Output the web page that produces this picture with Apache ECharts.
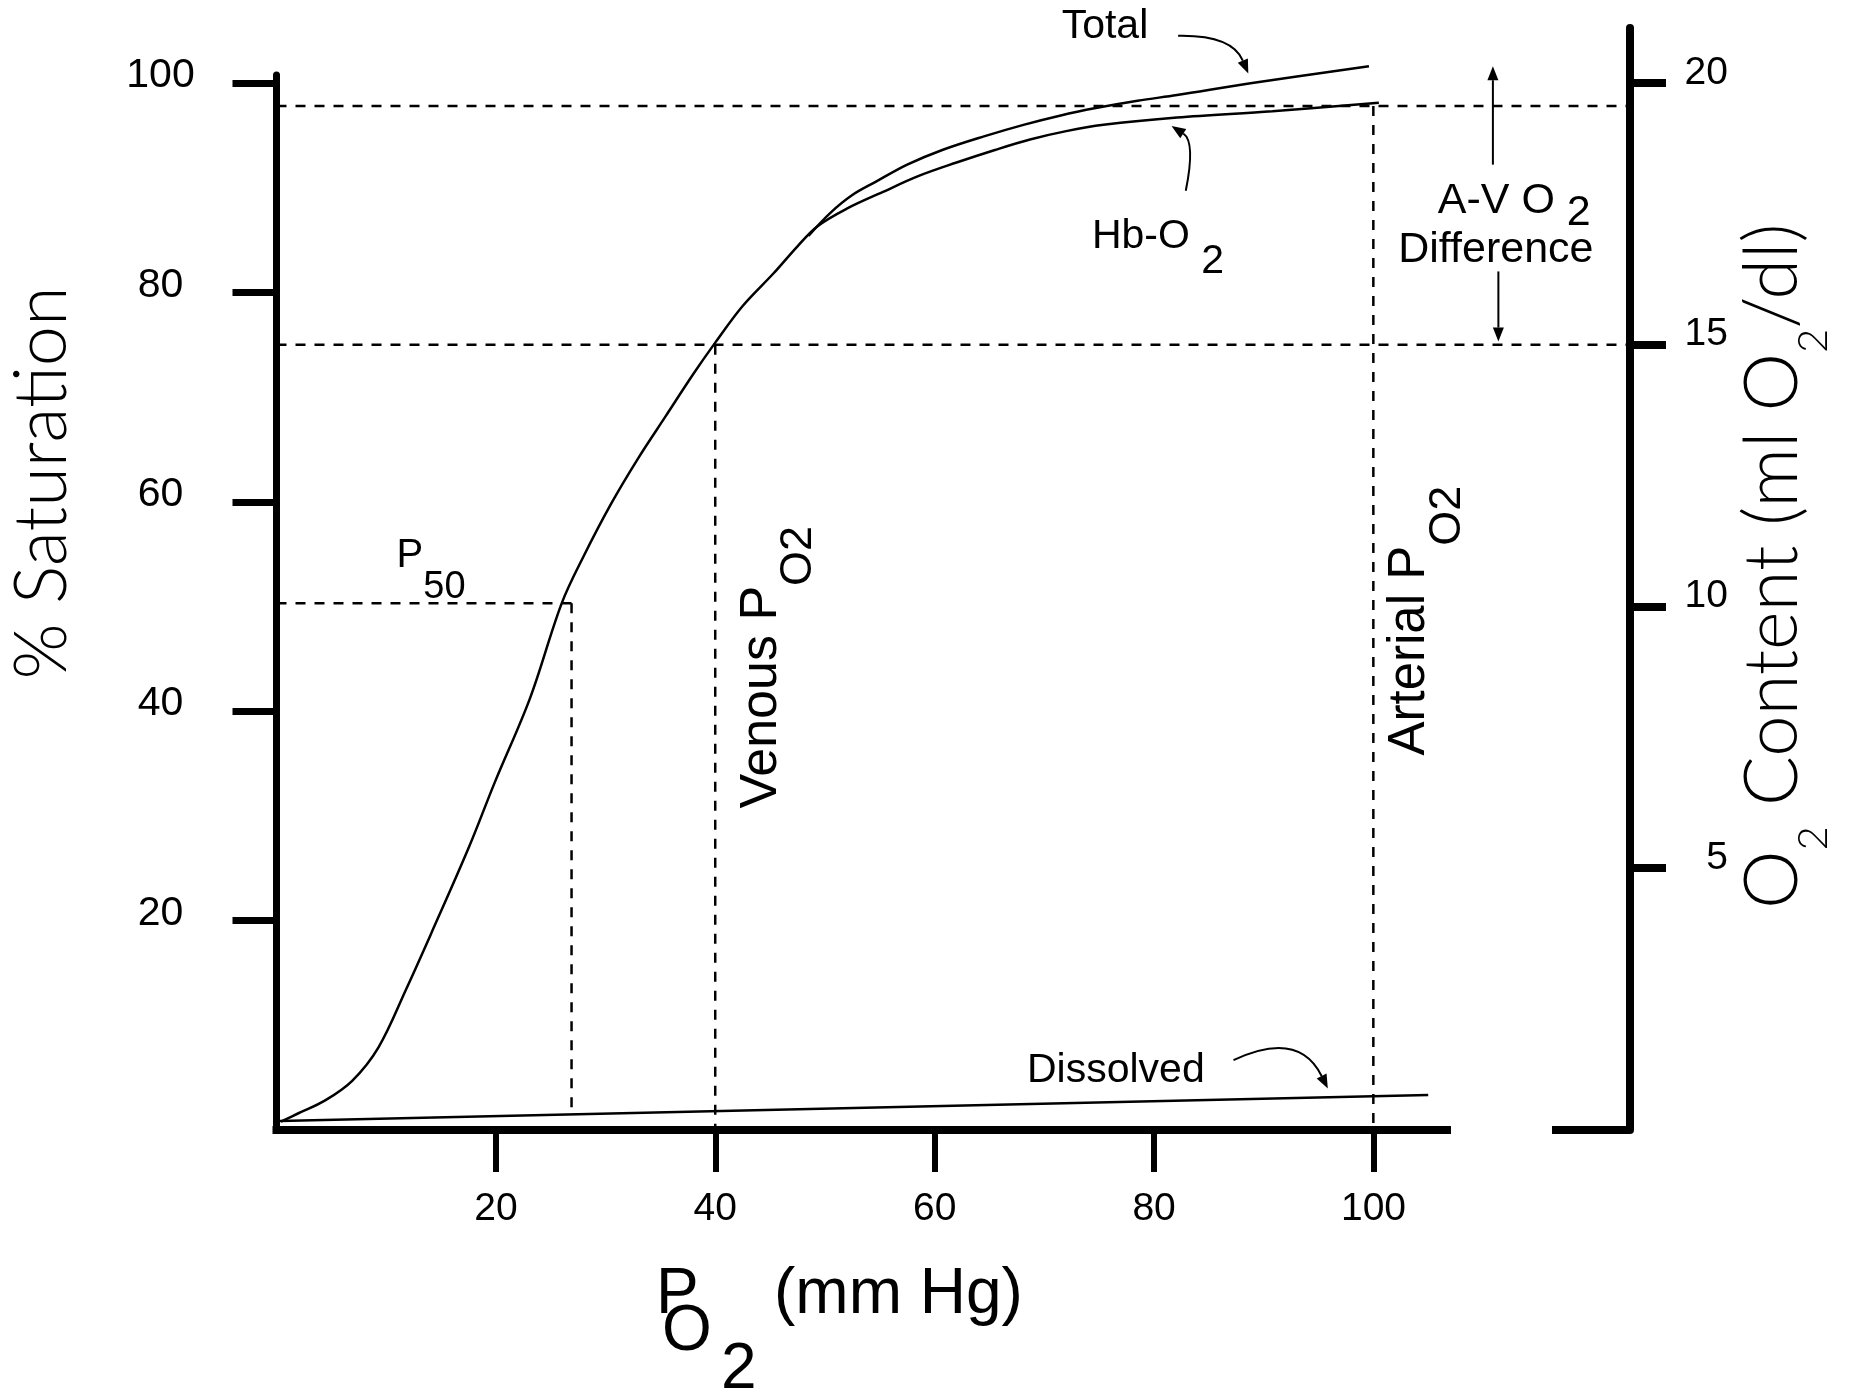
<!DOCTYPE html>
<html><head><meta charset="utf-8">
<script src="https://cdn.jsdelivr.net/npm/echarts@6/dist/echarts.min.js"></script>
<style>html,body{margin:0;padding:0;background:#fff}#c{width:1851px;height:1394px}</style>
</head><body><div id="c"></div><script>
// ---- data ----
const hbPo2 = [0.4, 2.0, 4.4, 6.9, 9.3, 11.8, 14.2, 17.5, 19.9, 23.1, 26.0, 28.0, 30.5, 33.0, 35.5, 38.0, 40.0, 42.5, 45.3, 47.5, 49.3, 52.0, 55.3, 58.5, 62.0, 65.5, 68.7, 72.0, 75.4, 82.1, 90.8, 100.5];
const hbSat = [0.8, 1.6, 2.8, 4.7, 7.9, 13.4, 19.0, 26.9, 33.2, 41.2, 50.3, 54.8, 59.8, 64.2, 68.2, 72.2, 75.2, 78.7, 81.8, 84.4, 86.3, 88.0, 89.6, 91.1, 92.4, 93.6, 94.6, 95.4, 96.0, 96.7, 97.3, 98.1];
const totalPo2 = [48.5, 50.5, 52.5, 54.7, 57.5, 60.7, 64.5, 68.1, 71.5, 74.7, 78.5, 82.1, 88.8, 99.6];
const totalSat = [85.4, 87.6, 89.3, 90.6, 92.2, 93.6, 94.9, 96.0, 96.9, 97.6, 98.3, 98.85, 99.97, 101.6];
const dissolvedPo2 = [0.3, 105.0];
const dissolvedSat = [0.85, 3.35];
// reference points
const p50Po2 = 26.9, p50Sat = 50.3, p50Floor = 1.55;
const venousPo2 = 40, venousSat = 75;
const arterialPo2 = 100, arterialSat = 97.8;
// ticks
const xTicks = [20, 40, 60, 80, 100];
const satTicks = [20, 40, 60, 80, 100];
const contentTicks = [5, 10, 15, 20];

// ---- axis extents ----
const X_MAX = 123.4, Y_MAX = 105.25;     // plot frame (right axis)
const XAXIS_END = 106.7, SAT_AXIS_END = 100.76;

const FONT = '"Liberation Sans", Arial, sans-serif';
const LIGHT = 'Lato, "Open Sans", sans-serif';

const zip = (a, b) => a.map((v, i) => [v, b[i]]);
function sub(mainSize, subSize, shift, family, weight) {
  return {
    m: {fontSize: mainSize, fontFamily: family, fontWeight: weight, fill: '#000'},
    s: {fontSize: subSize, fontFamily: family, fontWeight: weight, fill: '#000', padding: [2 * shift, 0, 0, 0]}
  };
}

// annotations in data coordinates (anchor = cap-centre of main text)
const labels = [
  {at: [75.53, 105.35], text: 'Total', align: 'center'},
  {at: [74.34, 85.29], text: '{m|Hb-O }{s|2}', align: 'left', rich: sub(41, 41, 25, FONT, 400)},
  {at: [105.88, 88.75], text: '{m|A-V O }{s|2}', align: 'left', rich: sub(43, 43, 12, FONT, 400)},
  {at: [111.17, 84.05], text: 'Difference', align: 'center', size: 43},
  {at: [10.95, 54.83], text: '{m|P}{s|50}', align: 'left', rich: sub(40, 38, 32, FONT, 400)},
  {at: [68.42, 5.65], text: 'Dissolved', align: 'left'},
  {at: [44.2, 30.7], rot: true, text: '{m|Venous P}{s|O2}', align: 'left', rich: sub(52, 45, 37, FONT, 400)},
  {at: [103.37, 35.77], rot: true, text: '{m|Arterial P}{s|O2}', align: 'left', rich: sub(51, 45, 37, FONT, 400)}
];
const arrows = [
  {from: [82.2, 104.5], ctrl: [87.1, 104.6], to: [88.6, 100.9]},
  {from: [82.9, 89.7], ctrl: [83.8, 94.4], to: [81.6, 95.9]},
  {from: [110.9, 92.2], ctrl: [110.9, 97], to: [110.9, 101.6]},
  {from: [111.4, 82.0], ctrl: [111.4, 78.5], to: [111.4, 75.3]},
  {from: [87.25, 6.68], ctrl: [93.2, 9.6], to: [95.85, 3.96]}
];

const dashed = {color: '#000', width: 2.5, type: [10, 9]};
function guide(name, pts) {
  return {name, type: 'line', xAxisIndex: 0, yAxisIndex: 0, data: pts, symbol: 'none',
          lineStyle: dashed, silent: true, z: 1, animation: false};
}
function curve(name, pts, w) {
  return {name, type: 'line', xAxisIndex: 0, yAxisIndex: 0, data: pts, symbol: 'none', showSymbol: false,
          smooth: 0.35, lineStyle: {color: '#000', width: w}, z: 3, animation: false};
}

const chart = echarts.init(document.getElementById('c'), null, {renderer: 'canvas'});
chart.setOption({
  backgroundColor: '#fff',
  animation: false,
  grid: [
    {left: 276.5, top: 28, width: 1353.5, height: 1102},
    {left: 276.5, top: 75, width: 1170.5, height: 1055}
  ],
  xAxis: [
    {gridIndex: 0, type: 'value', min: 0, max: X_MAX, show: false},
    {gridIndex: 1, type: 'value', min: 0, max: XAXIS_END, position: 'bottom',
     axisLine: {show: true, lineStyle: {color: '#000', width: 8, cap: 'square'}},
     axisTick: {show: true, customValues: xTicks, length: 42, lineStyle: {color: '#000', width: 6}},
     axisLabel: {show: true, customValues: xTicks, margin: 60, fontSize: 39, fontFamily: FONT, color: '#000'},
     splitLine: {show: false}}
  ],
  yAxis: [
    {gridIndex: 0, type: 'value', min: 0, max: Y_MAX, show: false},
    {gridIndex: 1, type: 'value', min: 0, max: SAT_AXIS_END, position: 'left',
     axisLine: {show: true, lineStyle: {color: '#000', width: 7}},
     axisTick: {show: true, customValues: satTicks, length: 44, lineStyle: {color: '#000', width: 7}},
     axisLabel: {show: true, customValues: satTicks, margin: 116, align: 'center', verticalAlign: 'bottom', lineHeight: 14,
                 fontSize: 41, fontFamily: FONT, color: '#000'},
     splitLine: {show: false}},
    {gridIndex: 0, type: 'value', min: 0, max: Y_MAX / 5, position: 'right',
     axisLine: {show: true, lineStyle: {color: '#000', width: 8}},
     axisTick: {show: true, customValues: contentTicks, length: 36, lineStyle: {color: '#000', width: 8}},
     axisLabel: {show: true, customValues: contentTicks, margin: 98, align: 'right', verticalAlign: 'bottom', lineHeight: 20,
                 fontSize: 39, fontFamily: FONT, color: '#000'},
     splitLine: {show: false}},
    {gridIndex: 0, type: 'value', min: 0, max: Y_MAX / 5, position: 'right',
     axisLine: {show: false},
     axisTick: {show: true, inside: true, customValues: [0], length: 78, lineStyle: {color: '#000', width: 8}},
     axisLabel: {show: false}, splitLine: {show: false}}
  ],
  series: [
    guide('arterialH', [[0, arterialSat], [X_MAX, arterialSat]]),
    guide('venousH', [[0, venousSat], [X_MAX, venousSat]]),
    guide('venousV', [[venousPo2, venousSat], [venousPo2, 0]]),
    guide('arterialV', [[arterialPo2, arterialSat], [arterialPo2, 0]]),
    guide('p50H', [[0, p50Sat], [p50Po2, p50Sat]]),
    guide('p50V', [[p50Po2, p50Sat], [p50Po2, p50Floor]]),
    curve('Hb-O2', zip(hbPo2, hbSat), 2.5),
    curve('Total', zip(totalPo2, totalSat), 2.5),
    curve('Dissolved', zip(dissolvedPo2, dissolvedSat), 2.5),
    {type: 'custom', name: 'labels', xAxisIndex: 0, yAxisIndex: 0, clip: false, silent: true, z: 5,
     data: labels.map(l => l.at),
     renderItem: function (params, api) {
       const l = labels[params.dataIndex];
       const p = api.coord([api.value(0), api.value(1)]);
       return {type: 'text', x: p[0], y: p[1], rotation: l.rot ? Math.PI / 2 : 0,
               style: {text: l.text, fontSize: l.size || 41, fontFamily: FONT, fill: '#000',
                       align: l.align, verticalAlign: 'middle', rich: l.rich || {}}};
     }},
    {type: 'custom', name: 'arrows', xAxisIndex: 0, yAxisIndex: 0, clip: false, silent: true, z: 5,
     data: arrows.map(a => a.to),
     renderItem: function (params, api) {
       const a = arrows[params.dataIndex];
       const f = api.coord(a.from), c = api.coord(a.ctrl), t = api.coord(a.to);
       const dx = t[0] - c[0], dy = t[1] - c[1], d = Math.hypot(dx, dy) || 1;
       const ux = dx / d, uy = dy / d, len = 14, hw = 5.5;
       const bx = t[0] - ux * len, by = t[1] - uy * len;
       return {type: 'group', children: [
         {type: 'bezierCurve', shape: {x1: f[0], y1: f[1], cpx1: c[0], cpy1: c[1], x2: bx, y2: by},
          style: {stroke: '#000', lineWidth: 2, fill: null}},
         {type: 'polygon', shape: {points: [t, [bx - uy * hw, by + ux * hw], [bx + uy * hw, by - ux * hw]]},
          style: {fill: '#000'}}
       ]};
     }}
  ],
  graphic: [
    {type: 'text', x: 42.5, y: 483, rotation: Math.PI / 2,
     style: {text: '% Saturation', fontSize: 72, fontFamily: LIGHT, fontWeight: 300, fill: '#000',
             align: 'center', verticalAlign: 'middle'}},
    {type: 'text', x: 1773.5, y: 909, rotation: Math.PI / 2,
     style: {text: '{m|O}{s|2}{m| Content (ml O}{s|2}{m|/dl)}', align: 'left', verticalAlign: 'middle',
             rich: sub(74, 42, 40, LIGHT, 300)}},
    {type: 'text', x: 656, y: 1295, style: {text: 'P', fontSize: 64, fontFamily: FONT, fill: '#000', align: 'left', verticalAlign: 'middle'}},
    {type: 'text', x: 662, y: 1332, style: {text: 'O', fontSize: 64, fontFamily: FONT, fill: '#000', align: 'left', verticalAlign: 'middle'}},
    {type: 'text', x: 721, y: 1370, style: {text: '2', fontSize: 64, fontFamily: FONT, fill: '#000', align: 'left', verticalAlign: 'middle'}},
    {type: 'text', x: 774, y: 1295, style: {text: '(mm Hg)', fontSize: 64, fontFamily: FONT, fill: '#000', align: 'left', verticalAlign: 'middle'}}
  ]
});
</script></body></html>
